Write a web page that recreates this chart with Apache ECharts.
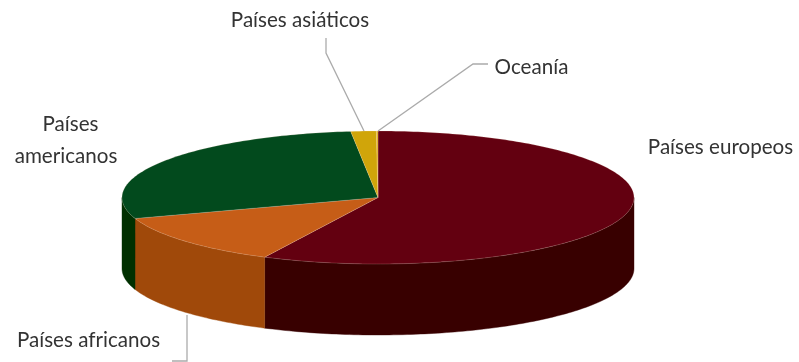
<!DOCTYPE html>
<html><head><meta charset="utf-8">
<style>html,body{margin:0;padding:0;background:#fff}#c{width:799px;height:362px}</style>
<script src="https://cdn.jsdelivr.net/npm/echarts@6/dist/echarts.min.js"></script>
</head><body><div id="c"></div>
<script>
const categories = ['Países europeos', 'Países africanos', 'Países americanos', 'Países asiáticos', 'Oceanía'];
const shares = [57.3, 12.6, 28.4, 1.6, 0.1];

const topColors = ['#630010', '#c65d17', '#024a1d', '#d0a50a', '#e0b020'];
const wallColors = ['#380000', '#a0490a', '#003000', '#a88508', '#b08c10'];
const disc = { cx: 378, cy: 197.5, rx: 256, ry: 66.5, depth: 71 };
const labelLayout = [
  { lines: [['Países europeos', 720.5, 147]] },
  { lines: [['Países africanos', 88.5, 340]], leader: [[187, 315], [187, 361], [172, 361]] },
  { lines: [['Países', 70.5, 124], ['americanos', 66, 156]] },
  { lines: [['Países asiáticos', 300, 20]], leader: [[326, 38], [326, 53], [364, 131]] },
  { lines: [['Oceanía', 531.5, 67]], leader: [[488, 64], [473, 64], [378, 131]] }
];
const FONT = '20.6px Lato';
const total = shares.reduce((a, b) => a + b, 0);

function pt(deg, dy) {
  const r = deg * Math.PI / 180;
  return [disc.cx + disc.rx * Math.sin(r), disc.cy - disc.ry * Math.cos(r) + (dy || 0)];
}
function arc(a, b, dy) {
  const out = [];
  const n = Math.max(1, Math.ceil(Math.abs(b - a)));
  for (let i = 0; i <= n; i++) out.push(pt(a + (b - a) * i / n, dy));
  return out;
}
function renderItem(params, api) {
  const i = params.dataIndex;
  const before = shares.slice(0, i).reduce((a, b) => a + b, 0);
  const a = before / total * 360;
  const b = a + api.value(1) / total * 360;
  const children = [];
  const wa = Math.max(a, 90), wb = Math.min(b, 270);
  if (wb > wa) {
    children.push({
      type: 'polygon', z2: 1,
      shape: { points: arc(wa, wb, 0).concat(arc(wb, wa, disc.depth)) },
      style: { fill: wallColors[i], stroke: wallColors[i], lineWidth: 0.4 }
    });
  }
  children.push({
    type: 'polygon', z2: 2,
    shape: { points: [[disc.cx, disc.cy]].concat(arc(a, b, 0)) },
    style: { fill: topColors[i], stroke: 'rgba(255,225,210,0.3)', lineWidth: 0.6 }
  });
  const lay = labelLayout[i];
  if (lay.leader) {
    children.push({
      type: 'polyline', z2: 3,
      shape: { points: lay.leader },
      style: { fill: null, stroke: '#ababab', lineWidth: 1.3 }
    });
  }
  lay.lines.forEach(([t, x, y]) => {
    children.push({
      type: 'text', z2: 4,
      style: { text: t, x, y, font: FONT, fill: '#333', align: 'center', verticalAlign: 'middle' }
    });
  });
  return { type: 'group', children };
}
const chart = echarts.init(document.getElementById('c'), null, { renderer: 'canvas' });
chart.setOption({
  animation: false,
  backgroundColor: '#fff',
  series: [{
    type: 'custom',
    coordinateSystem: 'none',
    silent: true,
    renderItem,
    data: categories.map((c, i) => [c, shares[i]])
  }]
});
</script></body></html>
